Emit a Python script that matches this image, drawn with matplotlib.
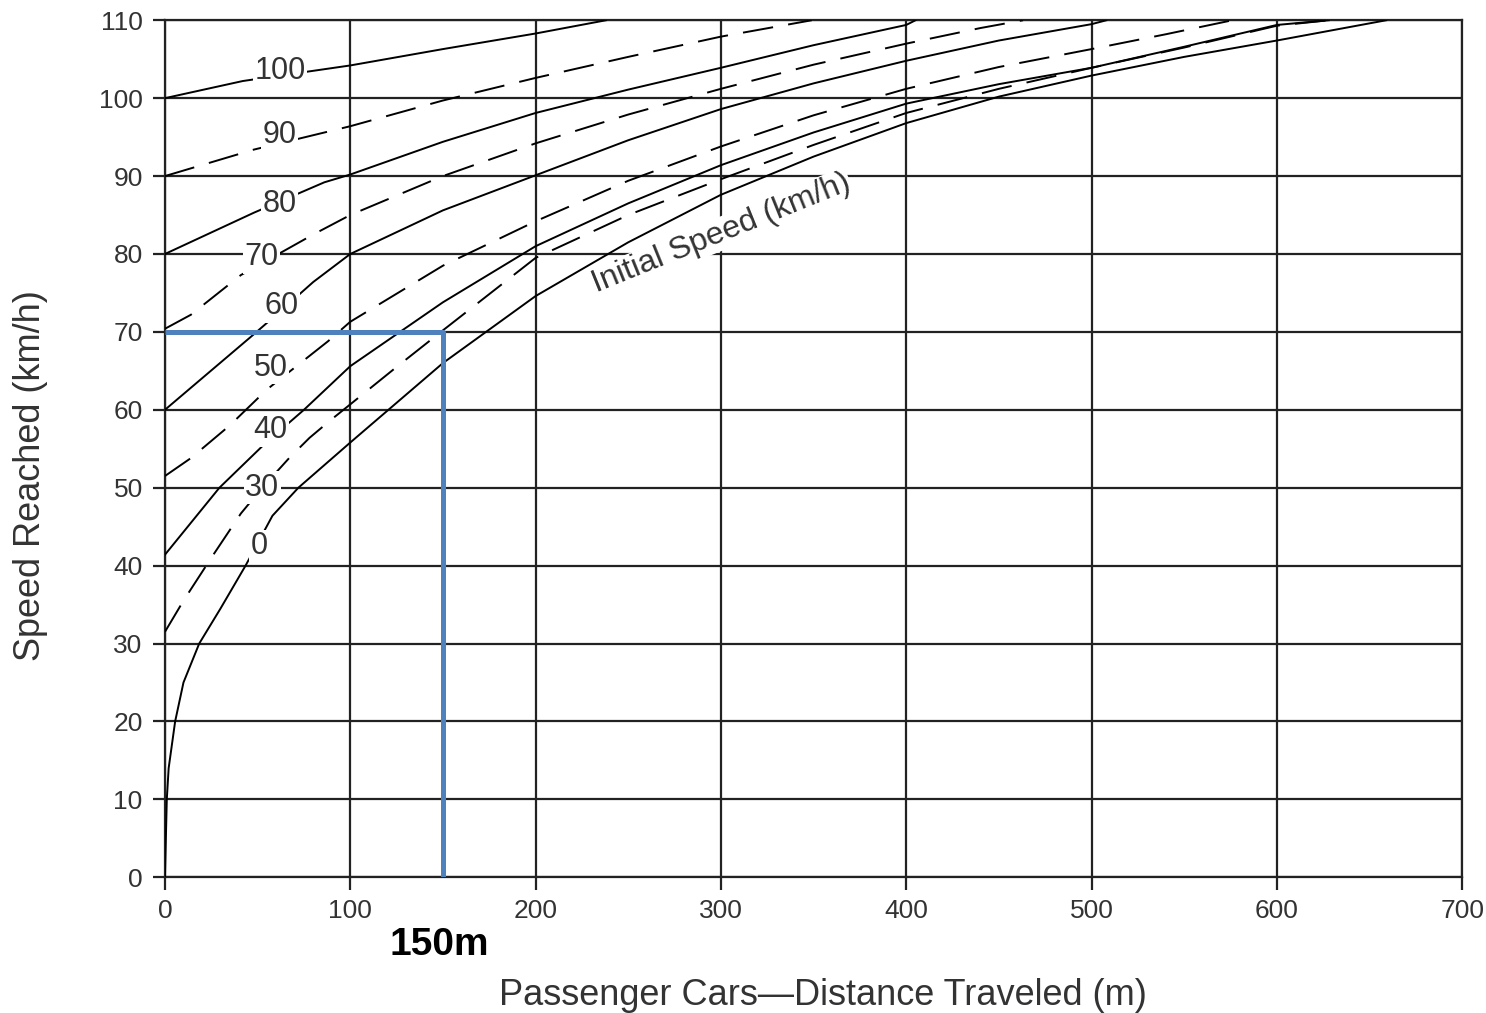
import numpy as np
import matplotlib
matplotlib.use("Agg")
import matplotlib.pyplot as plt

plt.rcParams['font.family'] = ['Liberation Sans', 'DejaVu Sans']
plt.rcParams['lines.scale_dashes'] = False

# acceleration curves, passenger cars: distance travelled (m) vs speed reached (km/h)
# one pair of lists per initial speed
d0 = [0, 0.5, 1, 2, 5.5, 10, 18.5, 30, 43.5, 58, 72, 100, 150, 200, 250, 300, 350, 400, 450, 500, 550, 600, 659]
v0 = [0, 5, 10, 14, 20, 25, 30, 34.5, 40, 46.4, 50, 55.8, 66, 74.6, 81.5, 87.6, 92.5, 96.8, 100.2, 102.9, 105.3, 107.4, 110]

d30 = [0, 10, 25, 41, 52.5, 67, 78, 89, 100, 125, 150, 200, 250, 300, 350, 400, 450, 500, 550, 600, 628]
v30 = [31.5, 35.5, 41, 46.7, 50, 53.8, 56.4, 58.6, 60.7, 65.5, 70.2, 79.5, 85, 89.6, 94, 98.1, 101.2, 103.9, 106.5, 109.3, 110]

d40 = [0, 29.4, 53.7, 75, 100, 150, 200, 250, 300, 350, 400, 450, 500, 550, 600, 628]
v40 = [41.4, 50, 55.6, 60, 65.6, 73.8, 81, 86.5, 91.4, 95.6, 99.3, 101.8, 103.9, 106.6, 109.4, 110]

d50 = [0, 14, 35, 55, 88, 100, 150, 200, 250, 300, 350, 400, 450, 500, 540, 576]
v50 = [51.5, 53.8, 58, 62.6, 68.8, 71.3, 78.5, 84.2, 89.4, 93.8, 97.8, 101.2, 104, 106.3, 108.2, 110]

d60 = [0, 48, 62, 80, 100, 150, 200, 250, 300, 350, 400, 450, 500, 508]
v60 = [60, 69.7, 72.6, 76.4, 80, 85.6, 90.1, 94.6, 98.6, 101.9, 104.8, 107.4, 109.5, 110]

d70 = [0, 14, 41, 80, 100, 150, 200, 250, 300, 350, 400, 440, 463]
v70 = [70.4, 72.2, 77.3, 82.5, 85, 90, 94.2, 97.9, 101.2, 104.3, 107, 109, 110]

d80 = [0, 48, 86, 100, 150, 200, 250, 300, 350, 400, 405]
v80 = [80, 85.3, 89.2, 90.2, 94.4, 98.1, 101.1, 103.9, 106.8, 109.4, 110]

d90 = [0, 48, 100, 150, 200, 250, 300, 349]
v90 = [90, 93.4, 96.4, 99.7, 102.6, 105.3, 107.9, 110]

d100 = [0, 42, 100, 150, 200, 238]
v100 = [100, 102.2, 104.2, 106.3, 108.3, 110]

curves = [(d0, v0, 'solid'), (d30, v30, 'dashed'), (d40, v40, 'solid'),
          (d50, v50, 'dashed'), (d60, v60, 'solid'), (d70, v70, 'dashed'),
          (d80, v80, 'solid'), (d90, v90, 'dashed'), (d100, v100, 'solid')]

# initial speed labels sitting on the curves
label_text = ['0', '30', '40', '50', '60', '70', '80', '90', '100']
label_x = [51, 52.5, 57, 57, 63, 52, 62, 62, 62]
label_y = [42.5, 50, 57.4, 65.4, 73.3, 79.6, 86.4, 95.3, 103.5]

# worked example drawn in blue
example_dist = 150
example_speed = 70

ink = '#222222'
fig = plt.figure(figsize=(14.86, 10.13), dpi=100)
ax = fig.add_axes([0.111, 0.134, 0.873, 0.846])

for d, v, style in curves:
    line, = ax.plot(d, v, color='black', lw=1.4, zorder=3)
    if style == 'dashed':
        line.set_dashes((22, 11))

for t, x, y in zip(label_text, label_x, label_y):
    ax.text(x, y, t, fontsize=22, color='#333333', ha='center', va='center', zorder=7,
            bbox=dict(facecolor='white', edgecolor='none', pad=1.0))

ax.text(300, 82.6, 'Initial Speed (km/h)', fontsize=23, color='#333333', rotation=22,
        ha='center', va='center', rotation_mode='anchor', zorder=7,
        bbox=dict(facecolor='white', edgecolor='none', pad=1.0))

ax.plot([0, example_dist, example_dist], [example_speed, example_speed, 0],
        color='#4f81bd', lw=3.6, zorder=5, solid_capstyle='butt')
ax.annotate('150m', xy=(148, -0.079), xycoords=('data', 'axes fraction'),
            fontsize=28, fontweight='bold', color='black', ha='center', va='center',
            annotation_clip=False)

ax.set_xlim(0, 700)
ax.set_ylim(0, 110)
ax.set_xticks(np.arange(0, 701, 100))
ax.set_yticks(np.arange(0, 111, 10))
ax.set_axisbelow(True)
ax.grid(True, color=ink, lw=1.6)
for s in ax.spines.values():
    s.set_color(ink)
    s.set_linewidth(1.6)
ax.tick_params(direction='out', length=9, width=1.6, color=ink, labelsize=19,
               labelcolor='#333333', pad=7)

ax.set_xlabel('Passenger Cars\u2014Distance Traveled (m)', fontsize=26, color='#333333')
ax.set_ylabel('Speed Reached (km/h)', fontsize=26, color='#333333')
ax.xaxis.set_label_coords(0.507, -0.118)
ax.yaxis.set_label_coords(-0.09, 0.469)

fig.savefig('out.png', dpi=100)
